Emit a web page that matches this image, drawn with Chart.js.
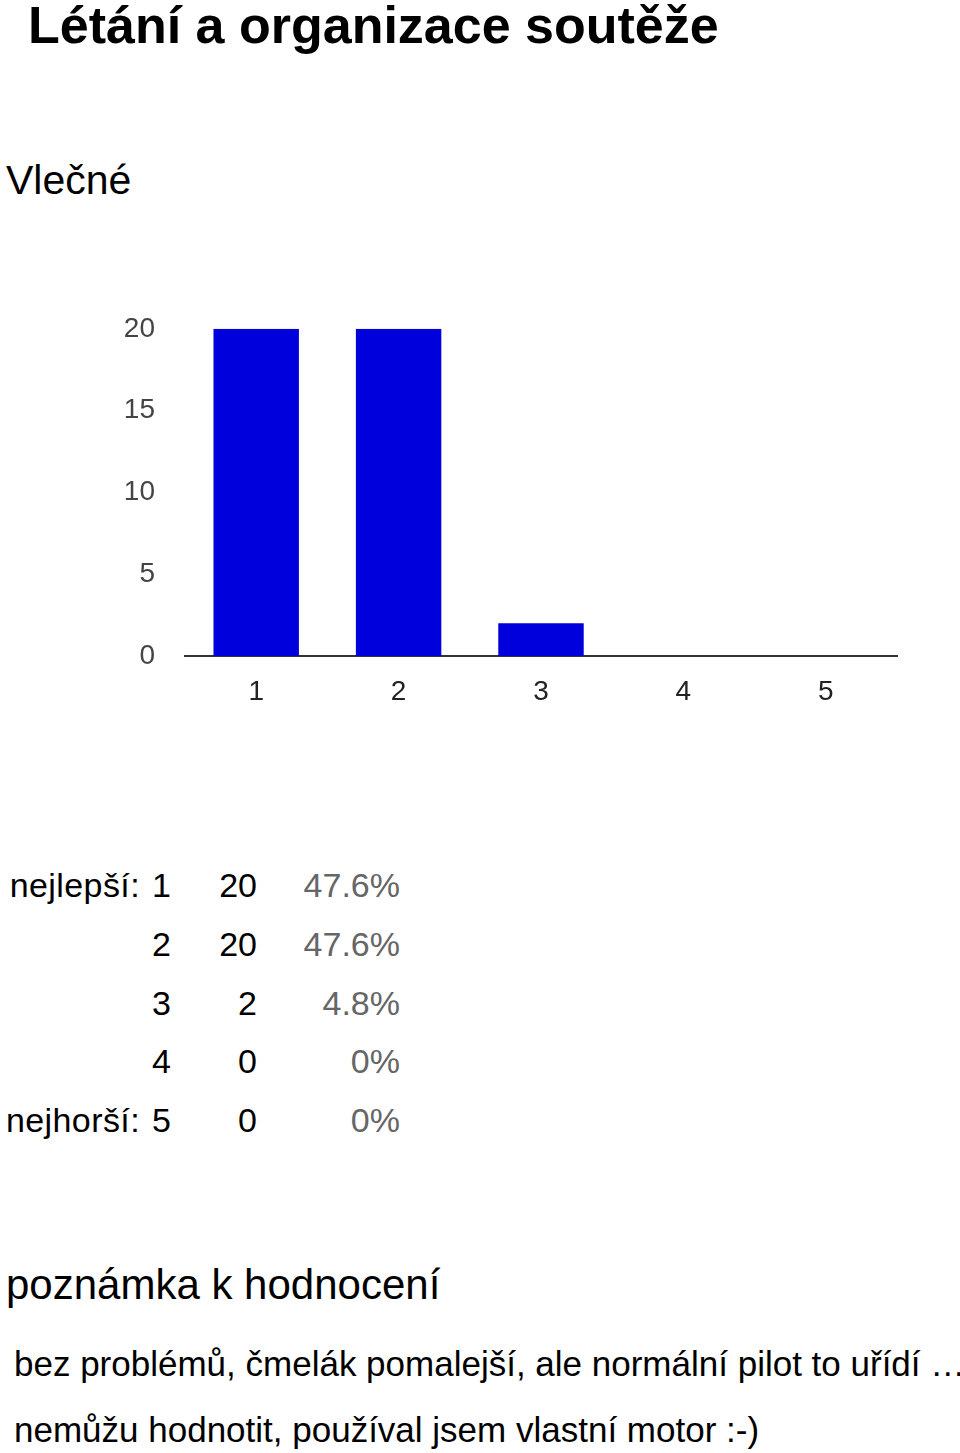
<!DOCTYPE html>
<html>
<head>
<meta charset="utf-8">
<script src="https://cdn.jsdelivr.net/npm/chart.js@4/dist/chart.umd.min.js"></script>
<style>
  html, body { margin: 0; padding: 0; background: #fff; }
  body { width: 960px; height: 1453px; position: relative; overflow: hidden; font-family: "Liberation Sans", Arial, sans-serif; color: #000; }
  .t { position: absolute; white-space: nowrap; line-height: 1; }
  #title { left: 28px; top: -1px; font-size: 52px; font-weight: bold; }
  #sub { left: 6px; top: 160px; font-size: 41px; }
  #chartBox { position: absolute; left: 0; top: 282px; width: 960px; height: 438px; }
  .row { position: absolute; left: 0; height: 40px; font-size: 34px; line-height: 1; }
  .row span { position: absolute; top: 0; white-space: nowrap; }
  .lab { right: calc(960px - 140px); letter-spacing: 0.4px; }
  .cat { right: calc(960px - 171px); }
  .cnt { right: calc(960px - 257px); }
  .pct { right: calc(960px - 400px); color: #666; }
  #note { left: 6px; top: 1264px; font-size: 42px; }
  .cm { left: 14px; font-size: 35px; }
</style>
</head>
<body>
<div class="t" id="title">Létání a organizace soutěže</div>
<div class="t" id="sub">Vlečné</div>
<div id="chartBox"><canvas id="c"></canvas></div>
<div id="table"></div>
<div class="t" id="note">poznámka k hodnocení</div>
<div class="t cm" style="top:1346px">bez problémů, čmelák pomalejší, ale normální pilot to uřídí …</div>
<div class="t cm" style="top:1412px">nemůžu hodnotit, používal jsem vlastní motor :-)</div>
<script>
const categories = ["1", "2", "3", "4", "5"];
const counts = [20, 20, 2, 0, 0];
const percents = ["47.6%", "47.6%", "4.8%", "0%", "0%"];
const rowLabels = ["nejlepší:", "", "", "", "nejhorší:"];
const yTicks = [0, 5, 10, 15, 20];

// table
const table = document.getElementById('table');
const rowTops = [868, 927, 986, 1044, 1103];
categories.forEach((c, i) => {
  const r = document.createElement('div');
  r.className = 'row';
  r.style.top = rowTops[i] + 'px';
  r.style.width = '960px';
  r.innerHTML = '<span class="lab">' + rowLabels[i] + '</span>' +
    '<span class="cat">' + c + '</span>' +
    '<span class="cnt">' + counts[i] + '</span>' +
    '<span class="pct">' + percents[i] + '</span>';
  table.appendChild(r);
});

new Chart(document.getElementById('c'), {
  type: 'bar',
  data: {
    labels: categories,
    datasets: [{
      data: counts,
      backgroundColor: '#0000DC',
      borderWidth: 0,
      categoryPercentage: 0.6,
      barPercentage: 1.0
    }]
  },
  options: {
    responsive: true,
    maintainAspectRatio: false,
    animation: false,
    layout: { padding: { top: 12, left: 0, right: 63, bottom: 0 } },
    plugins: { legend: { display: false }, tooltip: { enabled: false } },
    scales: {
      x: {
        grid: { display: false, drawTicks: false },
        border: { display: true, color: '#333', width: 2 },
        ticks: { color: '#222', font: { family: 'Liberation Sans', size: 28 }, padding: 19 },
        afterFit: (s) => { s.height = 64; }
      },
      y: {
        min: 0, max: 20,
        afterBuildTicks: (s) => { s.ticks = yTicks.map(v => ({ value: v })); },
        grid: { display: false, drawTicks: false },
        border: { display: false },
        ticks: { color: '#444', font: { family: 'Liberation Sans', size: 28 }, padding: 30 },
        afterFit: (s) => { s.width = 185; }
      }
    }
  }
});
</script>
</body>
</html>
